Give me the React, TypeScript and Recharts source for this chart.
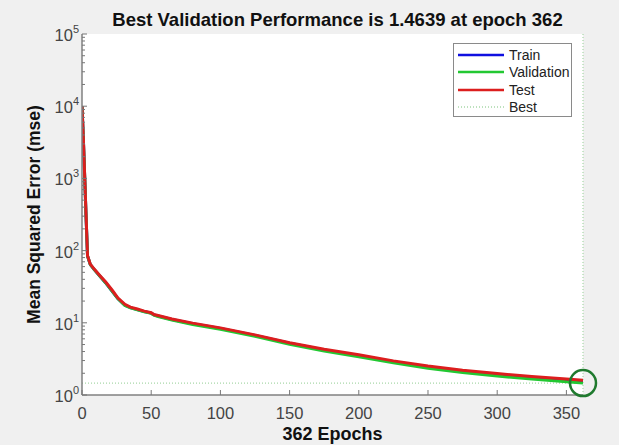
import React from "react";
import {
  LineChart,
  Line,
  XAxis,
  YAxis,
  CartesianGrid,
  ReferenceLine,
  ReferenceDot,
} from "recharts";

// ---- data ----
const epochs = [0, 1, 2, 3, 4, 6, 9, 13, 17, 22, 26, 31, 35, 40, 45, 50, 52, 55, 65, 80, 100, 125, 150, 175, 200, 225, 250, 275, 300, 325, 350, 362];
const trainMse = [10000, 3400, 980, 275, 84, 64, 54, 44, 36, 27, 21.5, 17.5, 16.2, 15.2, 14.3, 13.6, 12.9, 12.4, 11.1, 9.7, 8.35, 6.7, 5.2, 4.2, 3.5, 2.9, 2.45, 2.15, 1.92, 1.75, 1.62, 1.57];
const validationMse = [10000, 3400, 980, 275, 84, 64, 54, 44, 36, 27, 21.5, 17.4, 16.1, 15.1, 14.2, 13.5, 12.8, 12.2, 10.9, 9.5, 8.15, 6.5, 5.05, 4.05, 3.38, 2.8, 2.35, 2.05, 1.83, 1.66, 1.53, 1.4639];
const testMse = [10000, 3500, 1000, 280, 85, 65, 55, 45, 37, 28, 22, 18, 16.5, 15.5, 14.5, 13.8, 13.0, 12.6, 11.3, 9.9, 8.5, 6.8, 5.3, 4.3, 3.6, 2.97, 2.52, 2.2, 1.98, 1.8, 1.66, 1.6];

const bestEpoch = 362;
const bestValue = 1.4639;

const xTicks = [0, 50, 100, 150, 200, 250, 300, 350];
const yMajorTicks = [1, 10, 100, 1000, 10000, 100000];
const minorMultipliers = [2, 3, 4, 5, 6, 7, 8, 9];

const seriesNames = ["Train", "Validation", "Test", "Best"];
const seriesColors = ["#1010e0", "#22c832", "#dc1e1e", "#a8d8a8"];

const data = epochs.map((e, i) => ({
  epoch: e,
  train: trainMse[i],
  validation: validationMse[i],
  test: testMse[i],
}));

const yTicks = [
  ...yMajorTicks,
  ...yMajorTicks.slice(0, -1).flatMap((p) => minorMultipliers.map((m) => p * m)),
].sort((a, b) => a - b);

const FONT = "'Liberation Sans', Arial, sans-serif";
const PLOT_LEFT = 82;
const PLOT_BOTTOM = 395;

const YTick = (props: any) => {
  const { y, payload } = props;
  const v = payload.value;
  const exp = Math.log10(v);
  const isMajor = Math.abs(exp - Math.round(exp)) < 1e-9;
  return (
    <g>
      <line
        x1={PLOT_LEFT}
        x2={PLOT_LEFT + (isMajor ? 5 : 3)}
        y1={y}
        y2={y}
        stroke="#777"
        strokeWidth={1}
      />
      {isMajor && (
        <text x={79} y={y + 7} textAnchor="end" fontFamily={FONT} fontSize={16.5} fill="#444">
          10
          <tspan dy={-8} fontSize={11}>
            {Math.round(exp)}
          </tspan>
        </text>
      )}
    </g>
  );
};

const XTick = (props: any) => {
  const { x, payload } = props;
  return (
    <g>
      <line x1={x} x2={x} y1={PLOT_BOTTOM} y2={PLOT_BOTTOM - 5} stroke="#777" strokeWidth={1} />
      <text x={x} y={PLOT_BOTTOM + 24} textAnchor="middle" fontFamily={FONT} fontSize={16.5} fill="#444">
        {payload.value}
      </text>
    </g>
  );
};

const LegendBox = () => (
  <div
    style={{
      position: "absolute",
      left: 453,
      top: 43,
      width: 119,
      height: 74,
      border: "1px solid #8a8a8a",
      background: "#fff",
      boxSizing: "border-box",
      padding: "2px 0 0 4px",
      fontFamily: FONT,
      fontSize: 14,
      color: "#222",
      zIndex: 3,
    }}
  >
    {seriesNames.map((name, i) => (
      <div key={name} style={{ display: "flex", alignItems: "center", height: 17.5 }}>
        <svg width={46} height={6} style={{ marginRight: 5 }}>
          <line
            x1={0}
            x2={46}
            y1={3}
            y2={3}
            stroke={seriesColors[i]}
            strokeWidth={name === "Best" ? 1.5 : 2.5}
            strokeDasharray={name === "Best" ? "1 2" : undefined}
          />
        </svg>
        <span>{name}</span>
      </div>
    ))}
  </div>
);

const YLabel = () => (
  <text
    x={40}
    y={214.5}
    transform="rotate(-90 40 214.5)"
    textAnchor="middle"
    fontFamily={FONT}
    fontWeight="bold"
    fontSize={17.5}
    fill="#111"
  >
    Mean Squared Error  (mse)
  </text>
);

const XLabel = (props: any) => {
  const vb = props.viewBox || { x: 82, width: 501 };
  return (
    <text
      x={vb.x + vb.width / 2}
      y={440}
      textAnchor="middle"
      fontFamily={FONT}
      fontWeight="bold"
      fontSize={18}
      fill="#111"
    >
      362 Epochs
    </text>
  );
};

export default function App() {
  return (
    <div
      style={{
        position: "fixed",
        left: 0,
        top: 0,
        width: 619,
        height: 445,
        background: "#f0f0f0",
        overflow: "hidden",
      }}
    >
      <div
        style={{
          position: "absolute",
          left: 87,
          width: 501,
          top: 11,
          textAlign: "center",
          fontFamily: FONT,
          fontWeight: "bold",
          fontSize: 18.5,
          lineHeight: "18.5px",
          color: "#111",
          whiteSpace: "nowrap",
          zIndex: 2,
        }}
      >
        Best Validation Performance is 1.4639 at epoch 362
      </div>
      <LineChart
        width={619}
        height={445}
        data={data}
        margin={{ top: 34, right: 36, bottom: 0, left: 0 }}
      >
        <CartesianGrid fill="#ffffff" horizontal={false} vertical={false} stroke="none" />
        <XAxis
          dataKey="epoch"
          type="number"
          domain={[0, 362]}
          ticks={xTicks}
          interval={0}
          height={50}
          axisLine={{ stroke: "#808080", strokeWidth: 1.5 }}
          tickLine={false}
          tick={<XTick />}
          label={<XLabel />}
          allowDataOverflow
        />
        <YAxis
          scale="log"
          domain={[1, 100000]}
          ticks={yTicks}
          interval={0}
          width={82}
          axisLine={{ stroke: "#808080", strokeWidth: 1.5 }}
          tickLine={false}
          tick={<YTick />}
          label={<YLabel />}
          allowDataOverflow
        />
        <ReferenceLine y={bestValue} stroke={seriesColors[3]} strokeDasharray="1 2" strokeWidth={1.2} />
        <ReferenceLine x={bestEpoch} stroke={seriesColors[3]} strokeDasharray="1 2" strokeWidth={1.2} />
        <Line
          dataKey="train"
          name={seriesNames[0]}
          stroke={seriesColors[0]}
          strokeWidth={3}
          dot={false}
          isAnimationActive={false}
        />
        <Line
          dataKey="validation"
          name={seriesNames[1]}
          stroke={seriesColors[1]}
          strokeWidth={3}
          dot={false}
          isAnimationActive={false}
        />
        <Line
          dataKey="test"
          name={seriesNames[2]}
          stroke={seriesColors[2]}
          strokeWidth={3}
          dot={false}
          isAnimationActive={false}
        />
        <ReferenceDot
          x={bestEpoch}
          y={bestValue}
          r={13}
          fill="none"
          stroke="#1f7a2e"
          strokeWidth={2.5}
          ifOverflow="visible"
        />
      </LineChart>
      <LegendBox />
    </div>
  );
}
